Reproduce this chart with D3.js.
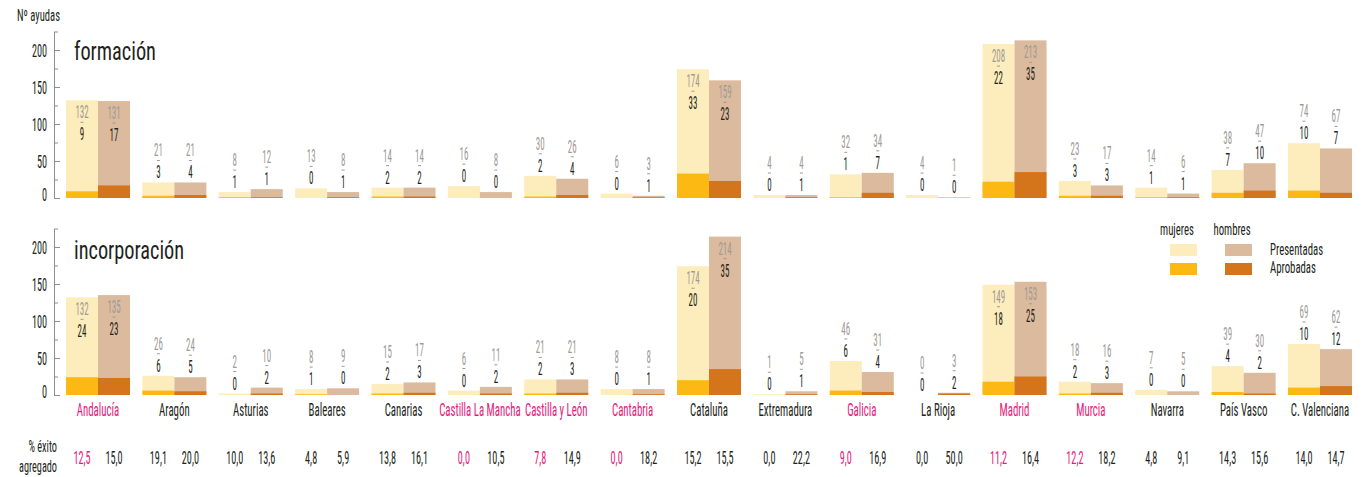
<!DOCTYPE html>
<html>
<head>
<meta charset="utf-8">
<script src="https://cdn.jsdelivr.net/npm/d3@7/dist/d3.min.js"></script>
<style>
  html, body { margin: 0; padding: 0; background: #fff; }
  svg { display: block; }
  text { font-family: "Liberation Sans Narrow", "Arial Narrow", "Roboto Condensed", "DejaVu Sans Condensed", "Liberation Sans", sans-serif; }
</style>
</head>
<body>
<svg id="chart" width="1363" height="477"></svg>
<script>
// ---------------- DATA ----------------
const categories = ["Andalucía", "Aragón", "Asturias", "Baleares", "Canarias", "Castilla La Mancha",
  "Castilla y León", "Cantabria", "Cataluña", "Extremadura", "Galicia", "La Rioja", "Madrid",
  "Murcia", "Navarra", "País Vasco", "C. Valenciana"];
const highlighted = ["Andalucía", "Castilla La Mancha", "Castilla y León", "Cantabria", "Galicia", "Madrid", "Murcia"];

// formación
const formPresentadasMujeres = [132, 21, 8, 13, 14, 16, 30, 6, 174, 4, 32, 4, 208, 23, 14, 38, 74];
const formPresentadasHombres = [131, 21, 12, 8, 14, 8, 26, 3, 159, 4, 34, 1, 213, 17, 6, 47, 67];
const formAprobadasMujeres   = [9, 3, 1, 0, 2, 0, 2, 0, 33, 0, 1, 0, 22, 3, 1, 7, 10];
const formAprobadasHombres   = [17, 4, 1, 1, 2, 0, 4, 1, 23, 1, 7, 0, 35, 3, 1, 10, 7];

// incorporación
const incPresentadasMujeres = [132, 26, 2, 8, 15, 6, 21, 8, 174, 1, 46, 0, 149, 18, 7, 39, 69];
const incPresentadasHombres = [135, 24, 10, 9, 17, 11, 21, 8, 214, 5, 31, 3, 153, 16, 5, 30, 62];
const incAprobadasMujeres   = [24, 6, 0, 1, 2, 0, 2, 0, 20, 0, 6, 0, 18, 2, 0, 4, 10];
const incAprobadasHombres   = [23, 5, 2, 0, 3, 2, 3, 1, 35, 1, 4, 2, 25, 3, 0, 2, 12];

// % éxito agregado
const exitoMujeres = [12.5, 19.1, 10.0, 4.8, 13.8, 0.0, 7.8, 0.0, 15.2, 0.0, 9.0, 0.0, 11.2, 12.2, 4.8, 14.3, 14.0];
const exitoHombres = [15.0, 20.0, 13.6, 5.9, 16.1, 10.5, 14.9, 18.2, 15.5, 22.2, 16.9, 50.0, 16.4, 18.2, 9.1, 15.6, 14.7];

const yTicks = [0, 50, 100, 150, 200];
const yMinorTicks = [25, 75, 125, 175, 225];
const panelTitles = ["formación", "incorporación"];
const legendSexes = ["mujeres", "hombres"];
const legendTypes = ["Presentadas", "Aprobadas"];

// ---------------- STYLE ----------------
const colors = {
  mujeres: { pres: "#fdedbc", apr: "#fcb813" },
  hombres: { pres: "#dcba9d", apr: "#d4741b" }
};
const textDark = "#231f20";
const textGrey = "#9d9a96";
const pink = "#e6197b";
const axisColor = "#8f8f8f";

const svg = d3.select("#chart");

function measure(str, size) {
  const t = svg.append("text").attr("font-size", size).text(str);
  const w = t.node().getComputedTextLength();
  t.remove();
  return w;
}
// horizontal condensation factors so the text matches the reference widths
const sxNum   = 14.4 / measure("000", 19);
const sxCat   = 124 / measure("AndalucíaCastilla La Mancha", 18);
const sxLeg   = 87 / measure("mujeresPresentadas", 17);
const sxSide  = 38 / measure("agregado", 17);
const sxAyu   = 43 / measure("Nº ayudas", 16);
const sxTitle = 82 / measure("formación", 25);

function label(g, x, y, str, opts) {
  return g.append("text")
    .attr("transform", `translate(${x},${y}) scale(${opts.sx},1)`)
    .attr("text-anchor", opts.anchor || "middle")
    .attr("font-size", opts.size || 19)
    .attr("fill", opts.fill || textDark)
    .text(str);
}

// ---------------- SCALES ----------------
const x = d3.scaleBand().domain(categories).range([66, 1352]).paddingInner(0.162).paddingOuter(0);
const sub = d3.scaleBand().domain(legendSexes).range([0, x.bandwidth()]);

const panels = [
  { title: panelTitles[0], base: 198, titleY: 60,
    presM: formPresentadasMujeres, presH: formPresentadasHombres,
    aprM: formAprobadasMujeres, aprH: formAprobadasHombres },
  { title: panelTitles[1], base: 395, titleY: 259,
    presM: incPresentadasMujeres, presH: incPresentadasHombres,
    aprM: incAprobadasMujeres, aprH: incAprobadasHombres }
];

panels.forEach(p => {
  const y = d3.scaleLinear().domain([0, 225]).range([p.base, p.base - 166.5]);
  const g = svg.append("g");

  const axisMajor = d3.axisRight(y).tickValues(yTicks).tickSize(6).tickSizeOuter(0).tickFormat("");
  const axisMinor = d3.axisRight(y).tickValues(yMinorTicks).tickSize(4).tickSizeOuter(0).tickFormat("");
  const ax1 = g.append("g").attr("transform", "translate(54,0)").call(axisMajor);
  const ax2 = g.append("g").attr("transform", "translate(54,0)").call(axisMinor);
  [ax1, ax2].forEach(a => {
    a.selectAll("path, line").attr("stroke", axisColor).attr("stroke-width", 1);
  });
  yTicks.forEach(v => {
    label(g, 47, y(v) + 6.5 - (v === 0 ? 4 : 0), String(v), { sx: sxNum * 1.05, anchor: "end" });
  });

  label(g, 74, p.titleY, p.title, { sx: sxTitle, anchor: "start", size: 25 });

  const rows = categories.map((c, i) => ({
    c,
    m: { pres: p.presM[i], apr: p.aprM[i] },
    h: { pres: p.presH[i], apr: p.aprH[i] }
  }));

  rows.forEach(r => {
    legendSexes.forEach(s => {
      const key = s === "mujeres" ? "m" : "h";
      const d = r[key];
      const bx = x(r.c) + sub(s);
      const bw = sub.bandwidth();
      g.append("rect")
        .attr("x", bx).attr("width", bw)
        .attr("y", y(d.pres)).attr("height", p.base - y(d.pres))
        .attr("fill", colors[s].pres);
      g.append("rect")
        .attr("x", bx).attr("width", bw)
        .attr("y", y(d.apr)).attr("height", p.base - y(d.apr))
        .attr("fill", colors[s].apr);

      const top = y(d.pres);
      const cx = bx + bw / 2;
      let cPres, cApr;
      if (d.pres > 100) { cPres = top + 11; cApr = top + 33; }
      else { cPres = top - 33; cApr = top - 11; }
      label(g, cx, cPres + 7, String(d.pres), { sx: sxNum * 0.92, fill: textGrey });
      g.append("line")
        .attr("x1", cx - 1.5).attr("x2", cx + 1.5)
        .attr("y1", (cPres + cApr) / 2).attr("y2", (cPres + cApr) / 2)
        .attr("stroke", textGrey).attr("stroke-width", 1);
      label(g, cx, cApr + 7, String(d.apr), { sx: sxNum * 0.92, fill: textDark });
    });
  });
});

// category labels & % éxito
const fmt = v => d3.format(".1f")(v).replace(".", ",");
categories.forEach((c, i) => {
  const hi = highlighted.includes(c);
  label(svg, x(c) + x.bandwidth() / 2, 416, c, { sx: sxCat, fill: hi ? pink : textDark, size: 18 });
  label(svg, x(c) + sub("mujeres") + sub.bandwidth() / 2, 464, fmt(exitoMujeres[i]),
    { sx: sxNum * 1.05, fill: hi ? pink : textDark });
  label(svg, x(c) + sub("hombres") + sub.bandwidth() / 2, 464, fmt(exitoHombres[i]),
    { sx: sxNum * 1.05, fill: textDark });
});

// side labels
label(svg, 57, 452, "% éxito", { sx: sxSide, anchor: "end", size: 17 });
label(svg, 57, 472, "agregado", { sx: sxSide, anchor: "end", size: 17 });
label(svg, 17, 21, "Nº ayudas", { sx: sxAyu, anchor: "start", size: 16 });

// legend
const lg = svg.append("g");
const legX = { mujeres: 1170, hombres: 1225 };
const legTextX = { mujeres: 1177, hombres: 1232 };
legendSexes.forEach(s => {
  label(lg, legTextX[s], 235, s, { sx: sxLeg, anchor: "middle", size: 17 });
  lg.append("rect").attr("x", legX[s]).attr("y", 244).attr("width", 27).attr("height", 12).attr("fill", colors[s].pres);
  lg.append("rect").attr("x", legX[s]).attr("y", 263).attr("width", 27).attr("height", 12).attr("fill", colors[s].apr);
});
label(lg, 1270, 255, legendTypes[0], { sx: sxLeg, anchor: "start", size: 17 });
label(lg, 1270, 273, legendTypes[1], { sx: sxLeg, anchor: "start", size: 17 });
</script>
</body>
</html>
